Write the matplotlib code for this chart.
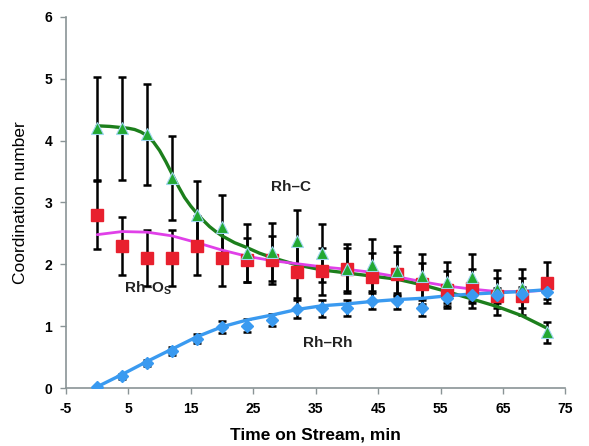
import numpy as np
import matplotlib
matplotlib.use("Agg")
import matplotlib.pyplot as plt

plt.rcParams["axes.unicode_minus"] = False

# --- data ---
t = [0, 4, 8, 12, 16, 20, 24, 28, 32, 36, 40, 44, 48, 52, 56, 60, 64, 68, 72]
rh_c = [4.2, 4.2, 4.1, 3.4, 2.8, 2.6, 2.18, 2.2, 2.38, 2.18, 1.93, 1.99, 1.89, 1.81, 1.71, 1.79, 1.6, 1.61, 0.9]
rh_c_err = [0.83, 0.83, 0.82, 0.68, 0.55, 0.52, 0.47, 0.47, 0.5, 0.47, 0.4, 0.42, 0.4, 0.36, 0.33, 0.38, 0.31, 0.31, 0.17]
rh_os = [2.8, 2.3, 2.1, 2.1, 2.3, 2.1, 2.07, 2.07, 1.88, 1.89, 1.92, 1.8, 1.85, 1.69, 1.59, 1.61, 1.48, 1.48, 1.7]
rh_os_err = [0.55, 0.47, 0.45, 0.45, 0.48, 0.45, 0.36, 0.38, 0.43, 0.38, 0.35, 0.38, 0.35, 0.33, 0.3, 0.32, 0.3, 0.3, 0.33]
rh_rh = [0.02, 0.19, 0.4, 0.6, 0.8, 0.99, 1.01, 1.1, 1.28, 1.29, 1.3, 1.41, 1.41, 1.3, 1.45, 1.5, 1.5, 1.52, 1.56]
rh_rh_err = [0.02, 0.04, 0.05, 0.06, 0.08, 0.1, 0.1, 0.1, 0.14, 0.14, 0.13, 0.13, 0.13, 0.13, 0.12, 0.12, 0.12, 0.12, 0.12]

# trend curves
fit_c_t = [0, 2, 4, 5, 6, 7, 8, 9, 10, 11, 12, 13, 14, 15, 16, 17, 18, 19, 20, 22, 24, 26, 28, 30, 32, 36, 40, 44, 48, 52, 56, 60, 64, 68, 72]
fit_c = [4.24, 4.23, 4.21, 4.2, 4.18, 4.14, 4.08, 3.98, 3.84, 3.66, 3.46, 3.26, 3.08, 2.94, 2.82, 2.71, 2.61, 2.53, 2.46, 2.35, 2.27, 2.18, 2.11, 2.05, 1.99, 1.91, 1.86, 1.81, 1.76, 1.67, 1.56, 1.44, 1.32, 1.17, 0.97]
fit_os_t = [0, 4, 8, 12, 16, 20, 24, 28, 32, 36, 40, 44, 48, 52, 56, 60, 64, 68, 72]
fit_os = [2.48, 2.53, 2.52, 2.46, 2.35, 2.23, 2.13, 2.06, 2.01, 1.96, 1.92, 1.87, 1.8, 1.72, 1.65, 1.6, 1.56, 1.56, 1.58]
fit_rh_t = [0, 4, 8, 12, 16, 20, 24, 28, 32, 36, 40, 44, 48, 52, 56, 60, 64, 68, 72]
fit_rh = [0.02, 0.22, 0.43, 0.63, 0.83, 0.99, 1.1, 1.18, 1.27, 1.33, 1.36, 1.4, 1.43, 1.45, 1.49, 1.52, 1.54, 1.56, 1.59]

xticks = [-5, 5, 15, 25, 35, 45, 55, 65, 75]
yticks = [0, 1, 2, 3, 4, 5, 6]

GREEN_LINE = "#1c7f1c"
GREEN_MK = "#22a832"
RED = "#e8202e"
PINK = "#e040e8"
BLUE = "#3a9af0"
GREY = "#8a9496"

fig = plt.figure(figsize=(5.89, 4.46), dpi=100)
ax = fig.add_axes([0.112, 0.130, 0.848, 0.832])

# error bars
for y, e in [(rh_c, rh_c_err), (rh_os, rh_os_err), (rh_rh, rh_rh_err)]:
    ax.errorbar(t, y, yerr=e, fmt="none", ecolor="black", elinewidth=1.8,
                capsize=3.2, capthick=1.8, zorder=3)

# trend curves
ax.plot(fit_c_t, fit_c, color=GREEN_LINE, lw=2.4, zorder=4, solid_capstyle="round", solid_joinstyle="round")
ax.plot(fit_os_t, fit_os, color=PINK, lw=2.0, zorder=4, solid_capstyle="round", solid_joinstyle="round")
ax.plot(fit_rh_t, fit_rh, color=BLUE, lw=2.4, zorder=4, solid_capstyle="round", solid_joinstyle="round")

# markers
ax.plot(t, rh_os, ls="none", marker="s", ms=9, color=RED, mec=RED, zorder=5)
ax.plot(t, rh_c, ls="none", marker="^", ms=8, color=GREEN_MK, mec="#9fd6f0", mew=0.8, zorder=6)
ax.plot(t, rh_rh, ls="none", marker="D", ms=6.5, color=BLUE, mec=BLUE, zorder=6)

# annotations
bold = dict(fontsize=11, fontweight="bold", color="#222222", family="Liberation Sans")
ax.text(31, 3.25, "Rh\u2013C", ha="center", va="center", zorder=7, **bold)
ax.text(8.2, 1.62, "Rh\u2013O$_\\mathregular{S}$", ha="center", va="center", zorder=7, **bold)
ax.text(37, 0.72, "Rh\u2013Rh", ha="center", va="center", zorder=7, **bold)

ax.set_xlim(-5, 75)
ax.set_ylim(0, 6)
ax.set_xticks(xticks)
ax.set_yticks(yticks)
ax.tick_params(axis="both", direction="out", length=4, width=1, color=GREY,
               labelsize=10, pad=6)
for lab in ax.get_xticklabels() + ax.get_yticklabels():
    lab.set_fontweight("bold")
    lab.set_family("Liberation Sans")
for side in ["top", "right"]:
    ax.spines[side].set_visible(False)
for side in ["left", "bottom"]:
    ax.spines[side].set_color(GREY)
    ax.spines[side].set_linewidth(1.2)

ax.set_ylabel("Coordination number", fontsize=12.5, family="Liberation Sans", labelpad=12)
ax.set_xlabel("Time on Stream, min", fontsize=12.5, fontweight="bold", family="Liberation Sans", labelpad=8)

fig.savefig("out.png", dpi=100)
